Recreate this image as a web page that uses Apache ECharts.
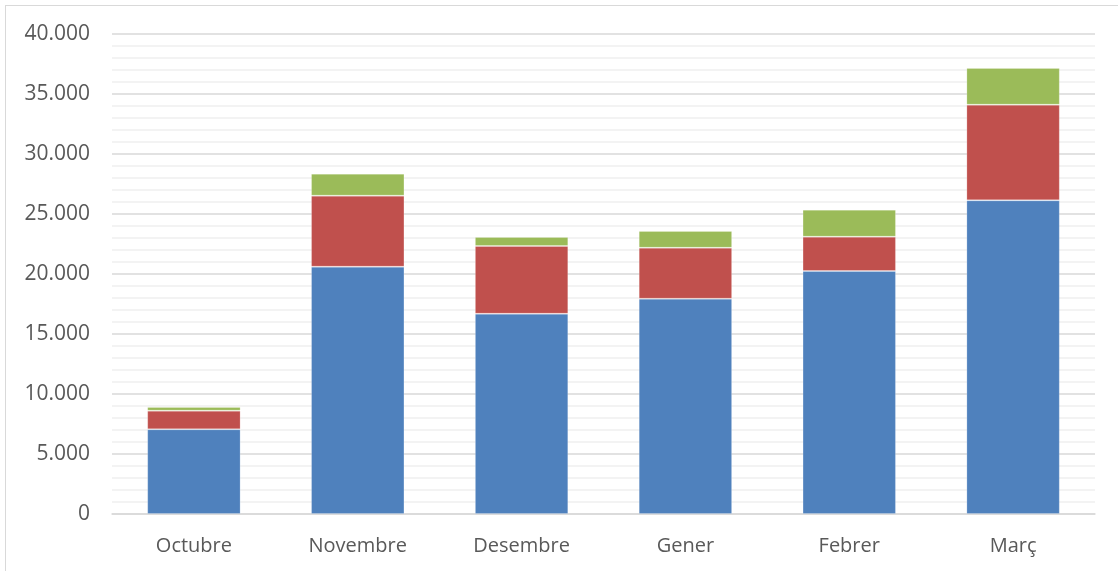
<!DOCTYPE html>
<html>
<head>
	<meta charset="utf-8">
	<title>Gràfic</title>
	<script src="https://cdn.jsdelivr.net/npm/echarts@6/dist/echarts.min.js"></script>
	<style>
		html, body { margin:0; padding:0; background:#fff; }
		#frame { position:absolute; left:5px; top:5px; width:1120px; height:570px; border:1px solid #d9d9d9; box-sizing:border-box; }
		#chart { position:absolute; left:0; top:0; width:1118px; height:571px; }
	</style>
</head>
<body>
	<div id="frame"></div>
	<div id="chart"></div>

<script type="text/javascript">
	// dades
	var mesos = ['Octubre', 'Novembre', 'Desembre', 'Gener', 'Febrer', 'Març'];
	var serie1 = [7060, 20610, 16690, 17940, 20250, 26140];
	var serie2 = [1550, 5920, 5640, 4250, 2860, 7970];
	var serie3 = [310, 1830, 750, 1390, 2250, 3060];
	var colors = ['#4f81bd', '#c0504d', '#9bbb59'];

	//format amb punt de milers
	function fmt(v){
		return String(v).replace(/\B(?=(\d{3})+(?!\d))/g, '.');
	}

	function barSerie(name, data, color){
		return {
			name: name,
			type: 'bar',
			stack: 'total',
			barWidth: '57%',
			data: data,
			itemStyle: { color: color, borderColor: 'rgba(255,255,255,0.2)', borderWidth: 1 }
		};
	}

	var option = {
		animation: false,
		textStyle: { fontFamily: '"Open Sans", sans-serif' },
		grid: { left: 112, right: 23, top: 34, bottom: 57 },
		xAxis: {
			type: 'category',
			data: mesos,
			axisTick: { show: false },
			axisLine: { lineStyle: { color: '#d9d9d9', width: 1.5 } },
			axisLabel: { color: '#595959', fontSize: 20, margin: 22 }
		},
		yAxis: {
			type: 'value',
			min: 0,
			max: 40000,
			interval: 5000,
			axisLine: { show: false },
			axisTick: { show: false },
			axisLabel: { color: '#595959', fontSize: 21, margin: 22, formatter: fmt },
			splitLine: { lineStyle: { color: '#d9d9d9', width: 1.5 } },
			minorTick: { show: false, splitNumber: 5 },
			minorSplitLine: { show: true, lineStyle: { color: '#f0f0f0', width: 1.5 } }
		},
		series: [
			barSerie('Sèrie 1', serie1, colors[0]),
			barSerie('Sèrie 2', serie2, colors[1]),
			barSerie('Sèrie 3', serie3, colors[2])
		]
	};

	var myChart = echarts.init(document.getElementById('chart'));
	myChart.setOption(option);
</script>
</body>
</html>
